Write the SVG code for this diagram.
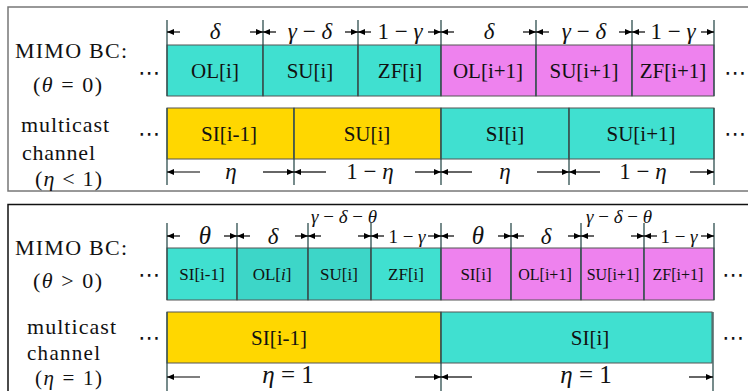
<svg xmlns="http://www.w3.org/2000/svg" width="748" height="391" viewBox="0 0 748 391">
<defs>
<marker id="ah" markerUnits="userSpaceOnUse" markerWidth="8" markerHeight="8" refX="7" refY="3.5" orient="auto">
<path d="M0,0.5 L7,3.5 L0,6.5 z" fill="#000"/>
</marker>
</defs>
<style>
text{font-family:"Liberation Serif","DejaVu Serif",serif;fill:#111}
.lab{font-size:22px}
.box{font-size:21px;text-anchor:middle}
.sm{font-size:17px;text-anchor:middle}
.xs{font-size:16px;text-anchor:middle}
.dim{font-size:23px;text-anchor:middle}
.dims{font-size:19px;text-anchor:middle}
.it{font-style:italic}
.dots{font-family:"DejaVu Sans",sans-serif;font-size:22px;text-anchor:middle}
.tq{fill:#40E0D0;stroke:#555;stroke-width:1}
.mt{fill:#3DD6C8;stroke:#555;stroke-width:1}
.pk{fill:#EE82EE;stroke:#555;stroke-width:1}
.gd{fill:#FFD700;stroke:#555;stroke-width:1}
.tick{stroke:#2F4F4F;stroke-width:1.3;fill:none}
.arr{stroke:#000;stroke-width:1.2;fill:none;marker-end:url(#ah)}
.frame{fill:none}
</style>
<rect x="0" y="0" width="748" height="391" fill="#fff"/>
<g id="frames">
<rect class="frame" x="8" y="7" width="760" height="184" stroke="#777" stroke-width="1.5"/>
<rect class="frame" x="8" y="204.5" width="760" height="200" stroke="#111" stroke-width="1.5"/>
</g>

<g id="labels-top">
<text class="lab" x="15" y="58" textLength="112">MIMO BC:</text>
<text class="lab" x="33" y="92" textLength="69">(<tspan class="it">θ</tspan> = 0)</text>
<text class="lab" x="21" y="132" textLength="88">multicast</text>
<text class="lab" x="22" y="160" textLength="73">channel</text>
<text class="lab" x="35" y="186" textLength="67">(<tspan class="it">η</tspan> &lt; 1)</text>
<text class="dots" x="149" y="80">⋯</text>
<text class="dots" x="149" y="141">⋯</text>
<text class="dots" x="735" y="80">⋯</text>
<text class="dots" x="735" y="141">⋯</text>
</g>

<g id="labels-bottom">
<text class="lab" x="15" y="255" textLength="112">MIMO BC:</text>
<text class="lab" x="33" y="288" textLength="69">(<tspan class="it">θ</tspan> &gt; 0)</text>
<text class="lab" x="27" y="334" textLength="89">multicast</text>
<text class="lab" x="27" y="360" textLength="73" style="font-size:21px">channel</text>
<text class="lab" x="35" y="385" textLength="67" style="font-size:21px">(<tspan class="it">η</tspan> = 1)</text>
<text class="dots" x="149" y="282">⋯</text>
<text class="dots" x="149" y="345">⋯</text>
<text class="dots" x="733" y="282">⋯</text>
<text class="dots" x="733" y="345">⋯</text>
</g>

<g id="top-mimo">
<g id="n-ol-i"><rect class="tq" x="167" y="45" width="96" height="51"/><text class="box" x="215" y="78">OL[i]</text></g>
<g id="n-su-i"><rect class="tq" x="263" y="45" width="95" height="51"/><text class="box" x="310" y="78">SU[i]</text></g>
<g id="n-zf-i"><rect class="tq" x="358" y="45" width="83" height="51"/><text class="box" x="400" y="78">ZF[i]</text></g>
<g id="n-ol-i1"><rect class="pk" x="441" y="45" width="95" height="51"/><text class="box" x="488" y="78">OL[i+1]</text></g>
<g id="n-su-i1"><rect class="pk" x="536" y="45" width="96" height="51"/><text class="box" x="584" y="78">SU[i+1]</text></g>
<g id="n-zf-i1"><rect class="pk" x="632" y="45" width="82" height="51"/><text class="box" x="673" y="78">ZF[i+1]</text></g>
</g>

<g id="top-multicast">
<g id="n-si-im1"><rect class="gd" x="167" y="108" width="127" height="51"/><text class="box" x="229" y="141">SI[i-1]</text></g>
<g id="n-su-i-mc"><rect class="gd" x="294" y="108" width="147" height="51"/><text class="box" x="367" y="141">SU[i]</text></g>
<g id="n-si-i-mc"><rect class="tq" x="441" y="108" width="128" height="51"/><text class="box" x="505" y="141">SI[i]</text></g>
<g id="n-su-i1-mc"><rect class="tq" x="569" y="108" width="145" height="51"/><text class="box" x="641" y="141">SU[i+1]</text></g>
</g>

<g id="bottom-mimo">
<g id="b-si-im1"><rect class="tq" x="167" y="248" width="70" height="52"/><text class="sm" x="202" y="280">SI[i-1]</text></g>
<g id="b-ol-i"><rect class="mt" x="237" y="248" width="71" height="52"/><text class="sm" x="272" y="280">OL[<tspan class="it">i</tspan>]</text></g>
<g id="b-su-i"><rect class="mt" x="308" y="248" width="63" height="52"/><text class="sm" x="339" y="280">SU[i]</text></g>
<g id="b-zf-i"><rect class="tq" x="371" y="248" width="70" height="52"/><text class="sm" x="406" y="280">ZF[i]</text></g>
<g id="b-si-i"><rect class="pk" x="441" y="248" width="70" height="52"/><text class="sm" x="476" y="280">SI[i]</text></g>
<g id="b-ol-i1"><rect class="pk" x="511" y="248" width="70" height="52"/><text class="xs" x="545" y="280">OL[i+1]</text></g>
<g id="b-su-i1"><rect class="pk" x="581" y="248" width="63" height="52"/><text class="xs" x="613" y="280">SU[i+1]</text></g>
<g id="b-zf-i1"><rect class="pk" x="644" y="248" width="70" height="52"/><text class="xs" x="678" y="280">ZF[i+1]</text></g>
</g>

<g id="bottom-multicast">
<g id="b-si-im1-mc"><rect class="gd" x="167" y="312" width="274" height="51"/><text class="box" x="279" y="345">SI[i-1]</text></g>
<g id="b-si-i-mc"><rect class="tq" x="441" y="312" width="271" height="51"/><text class="box" x="590" y="345">SI[i]</text></g>
</g>

<g id="connectors">
<path class="tick" d="M167,20V96 M263,20V96 M358,20V96 M441,20V96 M536,20V96 M632,20V96 M714,20V96"/>
<path class="tick" d="M167,108V185 M294,108V185 M441,108V185 M569,108V185 M714,108V185"/>
<path class="tick" d="M167,223V300 M237,223V300 M308,223V300 M371,223V300 M441,223V300 M511,223V300 M581,223V300 M644,223V300 M714,223V300"/>
<path class="tick" d="M167,312V391 M441,312V391 M713,312V391"/>

<line class="arr" x1="180" y1="32" x2="167" y2="32"/>
<line class="arr" x1="250" y1="32" x2="263" y2="32"/>
<line class="arr" x1="276" y1="32" x2="263" y2="32"/>
<line class="arr" x1="345" y1="32" x2="358" y2="32"/>
<line class="arr" x1="371" y1="32" x2="358" y2="32"/>
<line class="arr" x1="428" y1="32" x2="441" y2="32"/>
<line class="arr" x1="454" y1="32" x2="441" y2="32"/>
<line class="arr" x1="523" y1="32" x2="536" y2="32"/>
<line class="arr" x1="549" y1="32" x2="536" y2="32"/>
<line class="arr" x1="619" y1="32" x2="632" y2="32"/>
<line class="arr" x1="645" y1="32" x2="632" y2="32"/>
<line class="arr" x1="701" y1="32" x2="714" y2="32"/>

<line class="arr" x1="200" y1="172" x2="167" y2="172"/>
<line class="arr" x1="263" y1="172" x2="294" y2="172"/>
<line class="arr" x1="326" y1="172" x2="294" y2="172"/>
<line class="arr" x1="415" y1="172" x2="441" y2="172"/>
<line class="arr" x1="472" y1="172" x2="441" y2="172"/>
<line class="arr" x1="537" y1="172" x2="569" y2="172"/>
<line class="arr" x1="600" y1="172" x2="569" y2="172"/>
<line class="arr" x1="690" y1="172" x2="714" y2="172"/>

<line class="arr" x1="180" y1="236" x2="167" y2="236"/>
<line class="arr" x1="224" y1="236" x2="237" y2="236"/>
<line class="arr" x1="250" y1="236" x2="237" y2="236"/>
<line class="arr" x1="295" y1="236" x2="308" y2="236"/>
<line class="arr" x1="321" y1="236" x2="308" y2="236"/>
<line class="arr" x1="358" y1="236" x2="371" y2="236"/>
<line class="arr" x1="384" y1="236" x2="371" y2="236"/>
<line class="arr" x1="428" y1="236" x2="441" y2="236"/>
<line class="arr" x1="454" y1="236" x2="441" y2="236"/>
<line class="arr" x1="498" y1="236" x2="511" y2="236"/>
<line class="arr" x1="524" y1="236" x2="511" y2="236"/>
<line class="arr" x1="568" y1="236" x2="581" y2="236"/>
<line class="arr" x1="594" y1="236" x2="581" y2="236"/>
<line class="arr" x1="631" y1="236" x2="644" y2="236"/>
<line class="arr" x1="657" y1="236" x2="644" y2="236"/>
<line class="arr" x1="701" y1="236" x2="714" y2="236"/>

<line class="arr" x1="200" y1="377" x2="167" y2="377"/>
<line class="arr" x1="415" y1="377" x2="441" y2="377"/>
<line class="arr" x1="472" y1="377" x2="441" y2="377"/>
<line class="arr" x1="689" y1="377" x2="713" y2="377"/>
</g>

<g id="dim-labels">
<text class="dim it" x="215" y="39">δ</text>
<text class="dim" x="310" y="39"><tspan class="it">γ</tspan> − <tspan class="it">δ</tspan></text>
<text class="dim" x="400" y="39">1 − <tspan class="it">γ</tspan></text>
<text class="dim it" x="489" y="39">δ</text>
<text class="dim" x="584" y="39"><tspan class="it">γ</tspan> − <tspan class="it">δ</tspan></text>
<text class="dim" x="673" y="39">1 − <tspan class="it">γ</tspan></text>

<text class="dim it" x="231" y="179">η</text>
<text class="dim" x="370" y="179">1 − <tspan class="it">η</tspan></text>
<text class="dim it" x="505" y="179">η</text>
<text class="dim" x="643" y="179">1 − <tspan class="it">η</tspan></text>

<text class="dim it" x="205" y="244" style="font-size:25px">θ</text>
<text class="dim it" x="273" y="244">δ</text>
<text class="dims" x="344" y="223"><tspan class="it">γ</tspan> − <tspan class="it">δ</tspan> − <tspan class="it">θ</tspan></text>
<text class="dims" x="407" y="243">1 − <tspan class="it">γ</tspan></text>
<text class="dim it" x="478" y="244" style="font-size:25px">θ</text>
<text class="dim it" x="546" y="244">δ</text>
<text class="dims" x="619" y="223"><tspan class="it">γ</tspan> − <tspan class="it">δ</tspan> − <tspan class="it">θ</tspan></text>
<text class="dims" x="679" y="243">1 − <tspan class="it">γ</tspan></text>

<text class="dim" x="288" y="383" style="font-size:25px"><tspan class="it">η</tspan> = 1</text>
<text class="dim" x="586" y="383" style="font-size:25px"><tspan class="it">η</tspan> = 1</text>
</g>
</svg>
